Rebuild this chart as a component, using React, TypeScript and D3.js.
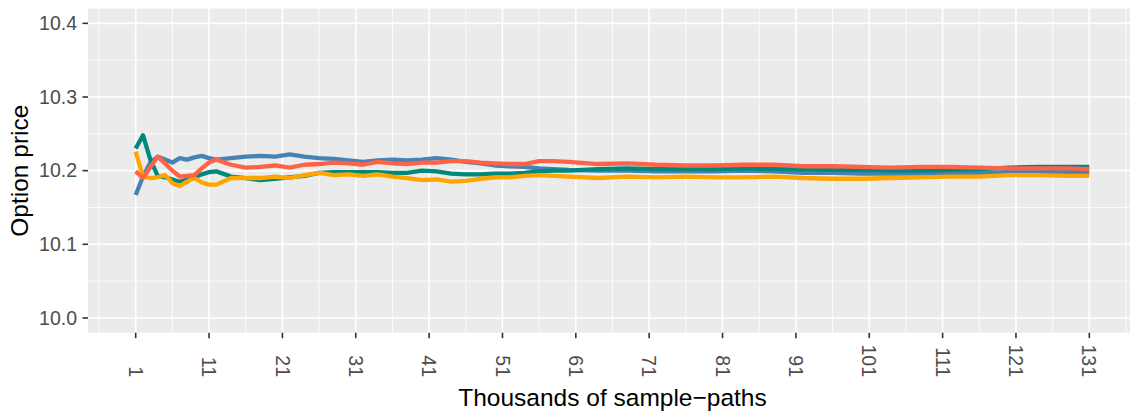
import React from "react";
import * as d3 from "d3";

const thousands = [1,2,3,4,5,6,7,8,9,10,11,12,14,16,18,20,22,24,26,28,30,32,34,36,38,40,42,44,46,48,50,52,54,56,58,60,64,68,72,76,80,84,88,92,96,100,104,108,112,116,120,124,128,131];

const seriesBlue = [10.167,10.192,10.211,10.219,10.215,10.211,10.217,10.215,10.218,10.220,10.217,10.215,10.217,10.219,10.220,10.219,10.222,10.219,10.217,10.216,10.214,10.212,10.214,10.215,10.214,10.215,10.217,10.215,10.212,10.210,10.207,10.206,10.205,10.203,10.202,10.201,10.200,10.200,10.199,10.199,10.199,10.200,10.199,10.197,10.197,10.196,10.196,10.196,10.197,10.197,10.198,10.198,10.198,10.198];

const seriesTeal = [10.230,10.248,10.215,10.193,10.191,10.188,10.185,10.188,10.191,10.195,10.198,10.199,10.192,10.190,10.187,10.189,10.191,10.193,10.197,10.198,10.198,10.198,10.198,10.197,10.197,10.200,10.199,10.196,10.195,10.195,10.196,10.196,10.197,10.199,10.200,10.200,10.202,10.203,10.202,10.202,10.202,10.203,10.202,10.202,10.201,10.201,10.200,10.200,10.201,10.202,10.204,10.205,10.205,10.205];

const seriesOrange = [10.226,10.192,10.190,10.191,10.194,10.183,10.179,10.185,10.190,10.184,10.181,10.181,10.190,10.190,10.190,10.192,10.190,10.194,10.197,10.194,10.195,10.193,10.195,10.192,10.190,10.187,10.188,10.185,10.186,10.189,10.191,10.191,10.193,10.194,10.193,10.192,10.190,10.192,10.191,10.192,10.191,10.191,10.192,10.190,10.189,10.189,10.190,10.191,10.192,10.192,10.194,10.194,10.193,10.193];

const seriesRed = [10.199,10.190,10.205,10.219,10.210,10.200,10.192,10.193,10.194,10.203,10.211,10.215,10.208,10.204,10.205,10.207,10.204,10.208,10.209,10.211,10.210,10.208,10.212,10.210,10.209,10.211,10.211,10.213,10.213,10.211,10.210,10.209,10.209,10.213,10.213,10.212,10.209,10.210,10.208,10.207,10.207,10.208,10.208,10.206,10.206,10.205,10.204,10.205,10.205,10.204,10.203,10.203,10.203,10.202];

const xTicks = [1,11,21,31,41,51,61,71,81,91,101,111,121,131];
const xMinor = [-4,6,16,26,36,46,56,66,76,86,96,106,116,126,136];
const yTicks = [10.0,10.1,10.2,10.3,10.4];
const yMinor = [10.05,10.15,10.25,10.35];

const seriesList = [
  { name: "blue", values: seriesBlue, color: "#4682B4" },
  { name: "teal", values: seriesTeal, color: "#00897B" },
  { name: "orange", values: seriesOrange, color: "#FFA500" },
  { name: "red", values: seriesRed, color: "#FF6347" },
];

export default function App() {
  const W = 1130, H = 415;
  const left = 88, right = 1137, top = 8.6, bottom = 332.7;
  const x = d3.scaleLinear().domain([-5.5, 137.5]).range([left, right]);
  const y = d3.scaleLinear().domain([9.98, 10.42]).range([bottom, top]);
  const line = d3.line<[number, number]>().x(d => x(d[0])).y(d => y(d[1]));
  const font = "'Liberation Sans', Arial, Helvetica, sans-serif";
  const tickFont = 19.5;
  const titleFont = 24.5;

  return (
    <svg width={W} height={H} style={{ position: "absolute", left: 0, top: 0 }} fontFamily={font}>
      <rect x={0} y={0} width={W} height={H} fill="#FFFFFF" />
      <rect x={left} y={top} width={right - left} height={bottom - top} fill="#EBEBEB" />
      {xMinor.map(v => (
        <line key={"xm" + v} x1={x(v)} x2={x(v)} y1={top} y2={bottom} stroke="#FFFFFF" strokeWidth={0.8} />
      ))}
      {yMinor.map(v => (
        <line key={"ym" + v} x1={left} x2={right} y1={y(v)} y2={y(v)} stroke="#FFFFFF" strokeWidth={0.8} />
      ))}
      {xTicks.map(v => (
        <line key={"xg" + v} x1={x(v)} x2={x(v)} y1={top} y2={bottom} stroke="#FFFFFF" strokeWidth={1.6} />
      ))}
      {yTicks.map(v => (
        <line key={"yg" + v} x1={left} x2={right} y1={y(v)} y2={y(v)} stroke="#FFFFFF" strokeWidth={1.6} />
      ))}
      {seriesList.map(s => (
        <path key={s.name}
          d={line(thousands.map((t, i) => [t, s.values[i]] as [number, number])) || ""}
          fill="none" stroke={s.color} strokeWidth={4.3} strokeLinejoin="round" strokeLinecap="butt" />
      ))}
      {yTicks.map(v => (
        <g key={"yt" + v}>
          <line x1={left - 5.5} x2={left} y1={y(v)} y2={y(v)} stroke="#333333" strokeWidth={1.6} />
          <text x={left - 11} y={y(v)} dy="0.35em" textAnchor="end" fontSize={tickFont} fill="#4D4D4D">{v.toFixed(1)}</text>
        </g>
      ))}
      {xTicks.map(v => (
        <g key={"xt" + v}>
          <line x1={x(v)} x2={x(v)} y1={bottom} y2={bottom + 5.5} stroke="#333333" strokeWidth={1.6} />
          <text transform={`translate(${x(v)},377) rotate(90)`} dy="0.35em" textAnchor="end" fontSize={tickFont} fill="#4D4D4D">{String(v)}</text>
        </g>
      ))}
      <text x={(left + right) / 2} y={406} textAnchor="middle" fontSize={titleFont} fill="#000000">Thousands of sample−paths</text>
      <text transform={`translate(28,${(top + bottom) / 2}) rotate(-90)`} textAnchor="middle" fontSize={titleFont} fill="#000000">Option price</text>
    </svg>
  );
}
